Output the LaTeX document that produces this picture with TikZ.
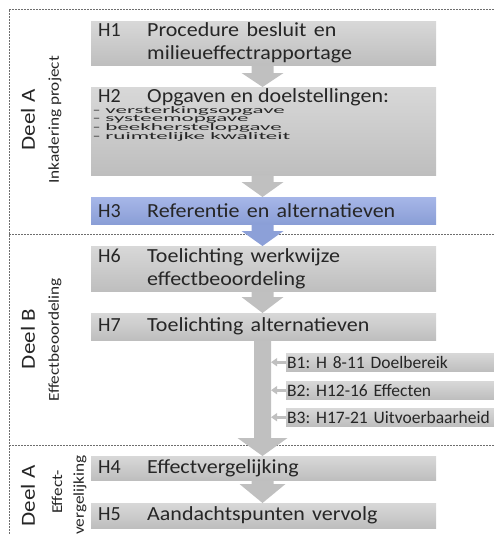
\documentclass[tikz,border=0pt]{standalone}
\usepackage{fontspec}
\setmainfont{Carlito}
\usepackage{graphicx}
\usetikzlibrary{arrows.meta,calc}
\frenchspacing

\definecolor{boxtop}{RGB}{216,216,216}
\definecolor{boxbot}{RGB}{190,190,190}
\definecolor{bluetop}{RGB}{166,182,232}
\definecolor{bluebot}{RGB}{138,158,214}
\definecolor{arrowgray}{RGB}{192,192,192}
\definecolor{arrowblue}{RGB}{140,160,216}
\definecolor{txt}{RGB}{38,38,38}
\definecolor{sepline}{RGB}{110,110,110}

\newcommand{\hrow}[2]{\makebox[49pt][l]{#1}\scalebox{1.1}[1]{#2}}
\newcommand{\wide}[1]{\scalebox{2.3}[1]{#1}}
\newcommand{\tall}[1]{\scalebox{1.15}[1]{#1}}

% block arrow: from, to, colour, shaft half width, head half width, head length
\newcommand{\blockarrow}[6]{%
  \fill[#3] ($(axis |- #1.south)+(-#4pt,0)$) -- ($(axis |- #2.north)+(-#4pt,#6pt)$)
    -- ($(axis |- #2.north)+(-#5pt,#6pt)$) -- (axis |- #2.north)
    -- ($(axis |- #2.north)+(#5pt,#6pt)$) -- ($(axis |- #2.north)+(#4pt,#6pt)$)
    -- ($(axis |- #1.south)+(#4pt,0)$) -- cycle;}

\tikzset{
  hbox/.style={rectangle, anchor=north west, minimum width=345pt, inner xsep=7pt,
    inner ysep=0pt, text width=331pt, align=left, top color=boxtop, bottom color=boxbot,
    text=txt, font=\fontsize{20}{23}\selectfont},
  hblue/.style={hbox, top color=bluetop, bottom color=bluebot},
  bbox/.style={rectangle, anchor=north west, minimum width=210pt, minimum height=18pt,
    inner xsep=1pt, inner ysep=0pt, text width=208pt, align=left, top color=boxtop,
    bottom color=boxbot, text=txt, font=\fontsize{17.5}{18}\selectfont},
  sep/.style={sepline, line width=0.6pt, dash pattern=on 2pt off 1pt},
  deel/.style={rotate=90, inner sep=0pt, text=txt, font=\fontsize{20}{20}\selectfont},
  deelsub/.style={rotate=90, inner sep=0pt, text=txt, font=\fontsize{15}{15}\selectfont},
  feeder/.style={arrowgray, line width=3pt, -{Triangle[length=6pt,width=8pt]}},
}

\begin{document}
\begin{tikzpicture}[x=1pt,y=-1pt]
    \useasboundingbox (0,0) rectangle (494,535);
    \clip (0,0) rectangle (494,535);
    \coordinate (axis) at (262.5,0);
    \coordinate (shaftR) at (271,0);

    % chapters
    \node[hbox, minimum height=44pt] (H1) at (91,21) {\hrow{H1}{Procedure besluit en}\\\hrow{}{milieueffectrapportage}};
    \node[hbox, minimum height=88pt] (H2) at (91,87) {};
    \node[anchor=base west, inner sep=0pt, text=txt, font=\fontsize{20}{23}\selectfont] (H2title) at (98,102) {\hrow{H2}{Opgaven en doelstellingen:}};
    \foreach \item [count=\i] in {versterkingsopgave, systeemopgave, beekherstelopgave, ruimtelijke kwaliteit}
        \node[anchor=base west, inner sep=0pt, text=txt, font=\fontsize{10}{10}\selectfont] (H2item\i) at (93,{104.3+8.7*\i}) {\wide{- \item}};
    \node[hblue, minimum height=27pt] (H3) at (91,197) {\hrow{H3}{Referentie en alternatieven}};
    \node[hbox, minimum height=45pt] (H6) at (91,246) {\hrow{H6}{Toelichting werkwijze}\\\hrow{}{effectbeoordeling}};
    \node[hbox, minimum height=27pt] (H7) at (91,313) {\hrow{H7}{Toelichting alternatieven}};
    \node[bbox] (B1) at (286,353) {B1: H 8-11 Doelbereik};
    \node[bbox] (B2) at (286,381) {B2: H12-16 Effecten};
    \node[bbox] (B3) at (286,408) {B3: H17-21 Uitvoerbaarheid};
    \node[hbox, minimum height=24pt] (H4) at (91,456) {\hrow{H4}{Effectvergelijking}};
    \node[hbox, minimum height=25pt] (H5) at (91,503) {\hrow{H5}{Aandachtspunten vervolg}};

    % parts
    \node[deel] (deelA) at (28,120) {\tall{Deel A}};
    \node[deelsub] (inkadering) at (55,120) {\tall{Inkadering project}};
    \node[deel] (deelB) at (28,339) {\tall{Deel B}};
    \node[deelsub] (beoordeling) at (55,340) {\tall{Effectbeoordeling}};
    \node[deel] (deelA2) at (28,496) {\tall{Deel A}};
    \node[deelsub] (effect) at (57,492) {\tall{Effect-}};
    \node[deelsub] (vergelijking) at (80,495) {\tall{vergelijking}};

    % frame
    \draw[sep] (494,9) -- (9,9) -- (9,535);
    \draw[sep] (9,234) -- (494,234);
    \draw[sep] (9,445) -- (494,445);

    % flow
    \blockarrow{H1}{H2}{arrowgray}{11}{21}{14}
    \blockarrow{H2}{H3}{arrowgray}{11}{21}{15}
    \blockarrow{H3}{H6}{arrowblue}{11}{21}{15}
    \blockarrow{H6}{H7}{arrowgray}{11}{21}{16}
    \blockarrow{H7}{H4}{arrowgray}{8.5}{25}{18}
    \blockarrow{H4}{H5}{arrowgray}{11}{23}{19}
    \foreach \b in {B1,B2,B3}
        \draw[feeder] (\b.west) -- (\b.west -| shaftR);
\end{tikzpicture}
\end{document}
